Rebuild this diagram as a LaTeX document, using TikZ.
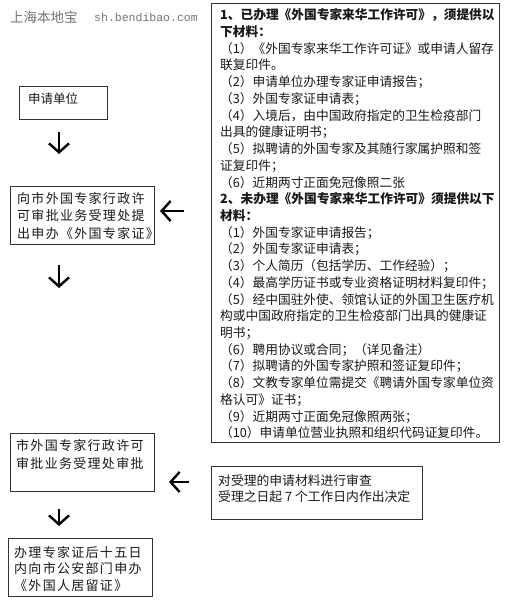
\documentclass[tikz,border=0pt]{standalone}
\usepackage{fontspec}
\setmainfont{Noto Sans CJK SC}
\newfontfamily\cjkwide[LetterSpace=10]{Noto Sans CJK SC}
\newfontfamily\monofnt{Liberation Mono}
\usetikzlibrary{arrows.meta}
\begin{document}
\begin{tikzpicture}[x=1pt,y=-1pt,
  box/.style={draw=black!80, line width=1pt, inner sep=0pt, anchor=north west},
  txt/.style={inner sep=0pt, anchor=base west, align=left, text=black!90},
  arr/.style={line width=2.4pt, -{Straight Barb[length=9pt,width=20pt]}}]
\useasboundingbox (0,0) rectangle (507,600);
\fill[white] (0,0) rectangle (507,600);

% watermark
\node[txt, text=black!55, font=\fontsize{13.5pt}{14pt}\selectfont] (wm) at (10,22) {上海本地宝};
\node[txt, text=black!55, font=\monofnt\fontsize{11.5pt}{12pt}\selectfont] (url) at (94,21) {sh.bendibao.com};

% boxes
\node[box, minimum width=288pt, minimum height=439pt] (req) at (211,3) {};
\node[box, minimum width=88pt, minimum height=33pt] (apply) at (19,86) {};
\node[box, minimum width=144pt, minimum height=58pt] (submit) at (10,186) {};
\node[box, minimum width=144pt, minimum height=58pt] (approve) at (10,433) {};
\node[box, minimum width=211pt, minimum height=53pt] (review) at (211,466) {};
\node[box, minimum width=144pt, minimum height=58pt] (final) at (8,538) {};

% texts (anchor = baseline of last line)
\node[txt, font=\fontsize{12.7pt}{16.72pt}\selectfont] (reqt) at (220,437.8) {%
\textbf{1、已办理《外国专家来华工作许可》，须提供以}\\
\textbf{下材料：}\\
（1）《外国专家来华工作许可证》或申请人留存\\
联复印件。\\
（2）申请单位办理专家证申请报告；\\
（3）外国专家证申请表；\\
（4）入境后，由中国政府指定的卫生检疫部门\\
出具的健康证明书；\\
（5）拟聘请的外国专家及其随行家属护照和签\\
证复印件；\\
（6）近期两寸正面免冠像照二张\\
\textbf{2、未办理《外国专家来华工作许可》须提供以下}\\
\textbf{材料：}\\
（1）外国专家证申请报告；\\
（2）外国专家证申请表；\\
（3）个人简历（包括学历、工作经验）；\\
（4）最高学历证书或专业资格证明材料复印件；\\
（5）经中国驻外使、领馆认证的外国卫生医疗机\\
构或中国政府指定的卫生检疫部门出具的健康证\\
明书；\\
（6）聘用协议或合同；（详见备注）\\
（7）拟聘请的外国专家护照和签证复印件；\\
（8）文教专家单位需提交《聘请外国专家单位资\\
格认可》证书；\\
（9）近期两寸正面免冠像照两张；\\
（10）申请单位营业执照和组织代码证复印件。};

\node[txt, font=\fontsize{12.5pt}{16pt}\selectfont] (applyt) at (28,103) {申请单位};
\node[txt, font=\cjkwide\fontsize{13pt}{17.5pt}\selectfont] (submitt) at (17,238) {向市外国专家行政许\\可审批业务受理处提\\出申办《外国专家证》};
\node[txt, font=\cjkwide\fontsize{13pt}{18pt}\selectfont] (approvet) at (16,468) {市外国专家行政许可\\审批业务受理处审批};
\node[txt, font=\fontsize{12.8pt}{16pt}\selectfont] (reviewt) at (218,501) {对受理的申请材料进行审查\\受理之日起 7 个工作日内作出决定};
\node[txt, font=\cjkwide\fontsize{13pt}{16.5pt}\selectfont] (finalt) at (14,590) {办理专家证后十五日\\内向市公安部门申办\\《外国人居留证》};

% arrows
\coordinate (d1s) at (59,132); \coordinate (d1e) at (59,154);
\coordinate (d2s) at (59,265); \coordinate (d2e) at (59,288);
\coordinate (d3s) at (59,509); \coordinate (d3e) at (59,526);
\coordinate (l1s) at (184,211); \coordinate (l1e) at (160,211);
\coordinate (l2s) at (189,482); \coordinate (l2e) at (169,482);
\draw[arr] (d1s) -- (d1e);
\draw[arr] (d2s) -- (d2e);
\draw[arr] (d3s) -- (d3e);
\draw[arr] (l1s) -- (l1e);
\draw[arr] (l2s) -- (l2e);
\end{tikzpicture}
\end{document}
